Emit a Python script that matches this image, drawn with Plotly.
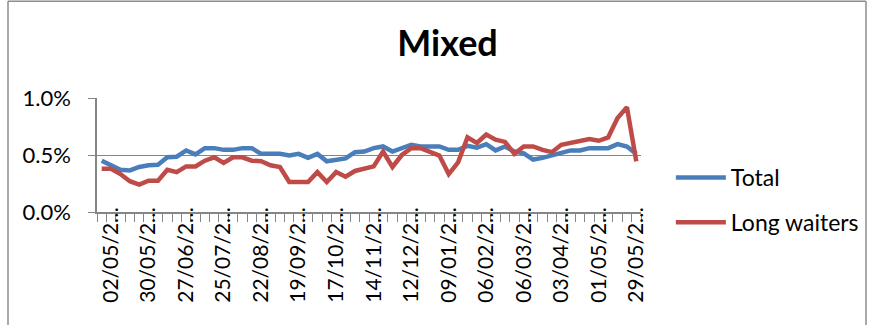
import pandas as pd
import plotly.graph_objects as go

# Weekly categories (week-ending dates)
weeks = pd.date_range("2010-04-25", "2011-05-29", freq="7D")
categories = [d.strftime("%d/%m/%Y") for d in weeks]

# Rates as fractions (0.005 = 0.5%)
total = [
    0.00450, 0.00415, 0.00371, 0.00365, 0.00395, 0.00410, 0.00415, 0.00480,
    0.00485, 0.00540, 0.00505, 0.00560, 0.00560, 0.00545, 0.00545, 0.00560,
    0.00560, 0.00510, 0.00510, 0.00510, 0.00495, 0.00510, 0.00475, 0.00510,
    0.00445, 0.00455, 0.00470, 0.00525, 0.00530, 0.00560, 0.00575, 0.00530,
    0.00560, 0.00590, 0.00575, 0.00575, 0.00575, 0.00545, 0.00545, 0.00580,
    0.00565, 0.00595, 0.00540, 0.00575, 0.00530, 0.00515, 0.00460, 0.00475,
    0.00495, 0.00525, 0.00540, 0.00540, 0.00560, 0.00560, 0.00560, 0.00595,
    0.00575, 0.00510,
]
long_waiters = [
    0.00380, 0.00380, 0.00333, 0.00270, 0.00240, 0.00275, 0.00275, 0.00370,
    0.00350, 0.00400, 0.00400, 0.00450, 0.00480, 0.00430, 0.00480, 0.00480,
    0.00450, 0.00445, 0.00410, 0.00395, 0.00263, 0.00263, 0.00263, 0.00350,
    0.00263, 0.00350, 0.00310, 0.00360, 0.00380, 0.00400, 0.00530, 0.00395,
    0.00500, 0.00560, 0.00560, 0.00530, 0.00495, 0.00333, 0.00435, 0.00655,
    0.00605, 0.00680, 0.00635, 0.00615, 0.00510, 0.00575, 0.00575, 0.00545,
    0.00525, 0.00590, 0.00610, 0.00630, 0.00640, 0.00625, 0.00655, 0.00825,
    0.00920, 0.00445,
]

# Every fourth week gets a (truncated) label, starting from the second week
tick_labels = [c[:7] + "\u2026" if i % 4 == 1 else "" for i, c in enumerate(categories)]

FONT = "Lato, 'Open Sans', sans-serif"
GRID = "#868686"

fig = go.Figure()
fig.add_trace(go.Scatter(
    x=categories, y=total, name="Total", mode="lines",
    line=dict(color="#4A7EBB", width=4.5), legendgroup="a",
))
fig.add_trace(go.Scatter(
    x=categories, y=long_waiters, name="Long waiters", mode="lines",
    line=dict(color="#BE4B48", width=4.5), legendgroup="b",
))

fig.update_layout(
    width=869, height=325,
    margin=dict(l=97, r=228, t=98, b=113),
    paper_bgcolor="white", plot_bgcolor="white",
    font=dict(family=FONT, color="black"),
    title=dict(text="<b>Mixed</b>", x=0.515, xanchor="center",
               y=1 - 43 / 325, yanchor="middle",
               font=dict(family=FONT, size=36, color="black")),
    showlegend=True,
    legend=dict(xref="container", yref="container", x=0.772, y=1 - 156 / 325,
                xanchor="left", yanchor="top", tracegroupgap=12,
                itemwidth=50, font=dict(family=FONT, size=23, color="black"),
                bgcolor="rgba(0,0,0,0)"),
    xaxis=dict(
        type="category", range=[-0.5, len(categories) - 0.5],
        tickmode="array", tickvals=categories, ticktext=tick_labels,
        tickson="boundaries", ticks="outside", ticklen=8, tickcolor=GRID,
        tickwidth=1.3, tickangle=-90, ticklabelstandoff=-15,
        tickfont=dict(family=FONT, size=21, color="black"),
        showline=True, linecolor=GRID, linewidth=1.5,
        showgrid=False, zeroline=False,
    ),
    yaxis=dict(
        range=[0, 0.01], tickmode="linear", tick0=0, dtick=0.005,
        tickformat=".1%", ticks="outside", ticklen=7, tickcolor=GRID,
        tickwidth=1.3, ticklabelstandoff=13,
        tickfont=dict(family=FONT, size=22, color="black"),
        showline=True, linecolor=GRID, linewidth=1.5,
        showgrid=True, gridcolor=GRID, gridwidth=1.3, zeroline=False,
    ),
    shapes=[
        # chart-area frame (top, left, right edges)
        dict(type="line", xref="paper", yref="paper",
             x0=(8 - 97) / 544, x1=(866 - 97) / 544,
             y0=(212.3 - 1.5) / 114, y1=(212.3 - 1.5) / 114,
             line=dict(color="#8C8C8C", width=1.5)),
        dict(type="line", xref="paper", yref="paper",
             x0=(8 - 97) / 544, x1=(8 - 97) / 544,
             y0=(212.3 - 1.5) / 114, y1=(212.3 - 330) / 114,
             line=dict(color="#8C8C8C", width=1.5)),
        dict(type="line", xref="paper", yref="paper",
             x0=(866 - 97) / 544, x1=(866 - 97) / 544,
             y0=(212.3 - 1.5) / 114, y1=(212.3 - 330) / 114,
             line=dict(color="#8C8C8C", width=1.5)),
    ],
)

fig.write_html("out.html")
